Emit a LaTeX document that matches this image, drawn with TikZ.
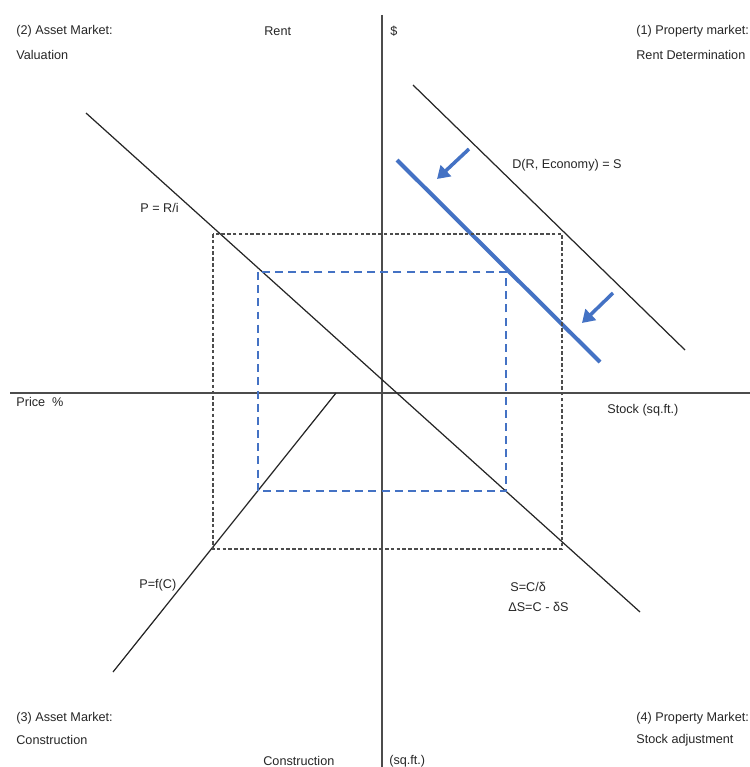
\documentclass[tikz,border=0pt]{standalone}
\usepackage{fontspec}
\setmainfont{Liberation Sans}
\usetikzlibrary{arrows.meta}
\definecolor{shiftblue}{HTML}{4472C4}
\begin{document}
\begin{tikzpicture}[x=0.02cm,y=-0.02cm,
		txt/.style={inner sep=0pt,anchor=west,font=\fontsize{7.2}{8.6}\selectfont,text=black!85},
		axis/.style={draw=black!70,line width=0.8pt},
		curve/.style={draw=black!85,line width=0.7pt},
		oldbox/.style={draw=black!70,line width=0.6pt,dash pattern=on 2pt off 1.3pt},
		newbox/.style={draw=shiftblue,line width=1.5pt,dash pattern=on 4.5pt off 3pt},
		shiftarrow/.style={draw=shiftblue,line width=2pt,-{Triangle[width=8.5pt,length=7pt]}}]
	\useasboundingbox (0,0) rectangle (750,767);
	
	% axes
	\coordinate (top) at (382,15);
	\coordinate (bottom) at (382,767);
	\coordinate (left) at (10,393);
	\coordinate (right) at (750,393);
	\path[axis] (top) -- (bottom);
	\path[axis] (left) -- (right);
	
	% curves
	\coordinate (V1) at (86,113);
	\coordinate (V2) at (640,612);
	\coordinate (D1) at (413,85);
	\coordinate (D2) at (685,350);
	\coordinate (C1) at (336,393);
	\coordinate (C2) at (113,672);
	\path[curve] (V1) -- (V2);
	\path[curve] (D1) -- (D2);
	\path[curve] (C1) -- (C2);
	
	% shifted demand
	\coordinate (N1) at (397,160);
	\coordinate (N2) at (600,362);
	\path[draw=shiftblue,line width=2.3pt] (N1) -- (N2);
	\coordinate (a1) at (469,149);
	\coordinate (b1) at (437,179);
	\coordinate (a2) at (613,293);
	\coordinate (b2) at (582,323);
	\path[shiftarrow] (a1) -- (b1);
	\path[shiftarrow] (a2) -- (b2);
	
	% equilibrium boxes
	\path[oldbox] (213,234) rectangle (562,549);
	\path[newbox] (258,272) rectangle (506,491);
	
	% texts
	\begin{scope}[every node/.style={txt}]
		\node (q2a) at (16,31) {(2) Asset Market:};
		\node (q2b) at (16,55) {Valuation};
		\node (rent) at (264,31) {Rent};
		\node (dollar) at (390,31) {\$};
		\node (q1a) at (636,31) {(1) Property market:};
		\node (q1b) at (636,55) {Rent Determination};
		\node (dem) at (512,165) {D(R, Economy) = S};
		\node (val) at (140,208) {P = R/i};
		\node (price) at (16,402) {Price \ \%};
		\node (stock) at (607,410) {Stock (sq.ft.)};
		\node (cons) at (139,585) {P=f(C)};
		\node (st1) at (510,587) {S=C/δ};
		\node (st2) at (508,607) {ΔS=C - δS};
		\node (q3a) at (16,718) {(3) Asset Market:};
		\node (q3b) at (16,740) {Construction};
		\node (cx) at (263,761) {Construction};
		\node (sqft) at (389,761) {(sq.ft.)};
		\node (q4a) at (636,718) {(4) Property Market:};
		\node (q4b) at (636,740) {Stock adjustment};
	\end{scope}
\end{tikzpicture}
\end{document}
